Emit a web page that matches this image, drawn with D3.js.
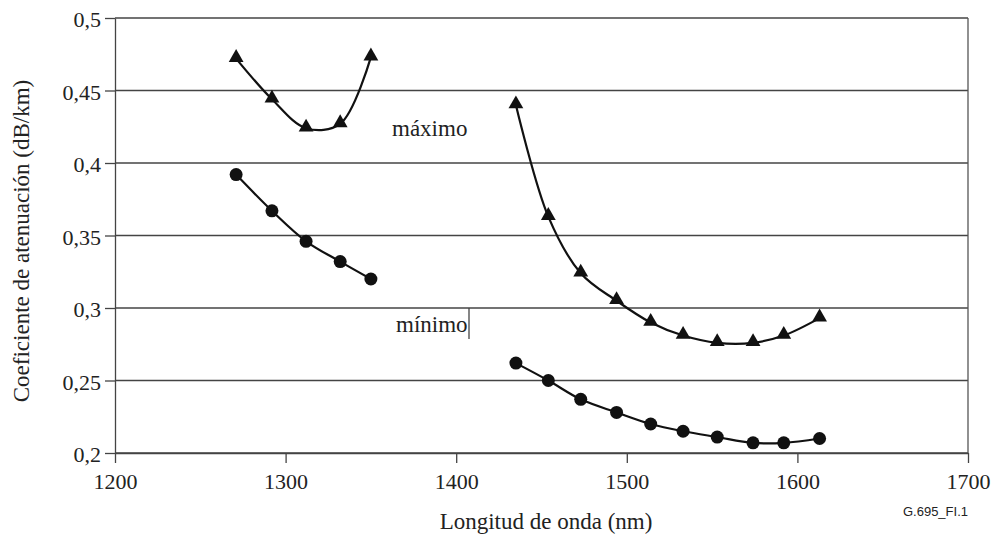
<!DOCTYPE html>
<html>
<head>
<meta charset="utf-8">
<script src="https://cdn.jsdelivr.net/npm/d3@7"></script>
<style>
  body { margin: 0; background: #fff; }
  svg text { font-family: "Liberation Serif", "DejaVu Serif", serif; fill: #222; }
</style>
</head>
<body>
<div id="chart_wrapper"></div>
<script>
// data
const xTicks = [1200, 1300, 1400, 1500, 1600, 1700];
const yTicks = [0.2, 0.25, 0.3, 0.35, 0.4, 0.45, 0.5];

const band1Wl = [1271, 1292, 1312, 1332, 1350];
const band1Max = [0.472, 0.444, 0.424, 0.427, 0.473];
const band1Min = [0.392, 0.367, 0.346, 0.332, 0.320];

const band2Wl = [1435, 1454, 1473, 1494, 1514, 1533, 1553, 1574, 1592, 1613];
const band2Max = [0.440, 0.363, 0.324, 0.305, 0.290, 0.281, 0.276, 0.276, 0.281, 0.293];
const band2Min = [0.262, 0.250, 0.237, 0.228, 0.220, 0.215, 0.211, 0.207, 0.207, 0.210];

const W = 995, H = 534;
const margin = {left: 115, right: 27, top: 18, bottom: 81};

const svg = d3.select('#chart_wrapper').append('svg')
    .attr('width', W)
    .attr('height', H);

const x = d3.scaleLinear().domain([1200, 1700]).range([margin.left, W - margin.right]);
const y = d3.scaleLinear().domain([0.2, 0.5]).range([H - margin.bottom, margin.top]);

const fmt = d => String(d).replace('.', ',');

// horizontal grid
svg.append('g')
    .selectAll('line')
    .data(yTicks)
    .join('line')
    .attr('x1', x(1200)).attr('x2', x(1700))
    .attr('y1', d => y(d)).attr('y2', d => y(d))
    .attr('stroke', '#444')
    .attr('stroke-width', 1.3);

// right border
svg.append('line')
    .attr('x1', x(1700)).attr('x2', x(1700))
    .attr('y1', y(0.5)).attr('y2', y(0.2))
    .attr('stroke', '#555').attr('stroke-width', 1.3);

const yAxis = svg.append('g')
    .attr('transform', `translate(${x(1200)},0)`)
    .call(d3.axisLeft(y).tickValues(yTicks).tickFormat(fmt).tickSize(10).tickSizeOuter(0));

const xAxis = svg.append('g')
    .attr('transform', `translate(0,${y(0.2)})`)
    .call(d3.axisBottom(x).tickValues(xTicks).tickFormat(d => d).tickSize(10).tickSizeOuter(0));

[yAxis, xAxis].forEach(a => {
    a.select('.domain').attr('stroke', '#444').attr('stroke-width', 1.3);
    a.selectAll('.tick line').attr('stroke', '#444').attr('stroke-width', 1.3);
    a.selectAll('.tick text')
        .style('font-family', '"Liberation Serif", serif')
        .style('font-size', '22px')
        .attr('fill', '#222');
});
yAxis.selectAll('.tick text').attr('x', -14).attr('dy', '0.4em');
xAxis.selectAll('.tick text').attr('y', 36).attr('dy', 0);

// curves
const line = d3.line()
    .x(d => x(d[0]))
    .y(d => y(d[1]))
    .curve(d3.curveCatmullRom.alpha(0.5));

const series = [
    {wl: band1Wl, v: band1Max, mark: 'tri'},
    {wl: band1Wl, v: band1Min, mark: 'dot'},
    {wl: band2Wl, v: band2Max, mark: 'tri'},
    {wl: band2Wl, v: band2Min, mark: 'dot'}
];

const tri = d3.symbol().type(d3.symbolTriangle).size(95);

series.forEach(s => {
    const pts = d3.zip(s.wl, s.v);
    svg.append('path')
        .datum(pts)
        .attr('d', line)
        .attr('fill', 'none')
        .attr('stroke', '#111')
        .attr('stroke-width', 2.2);

    if (s.mark === 'dot') {
        svg.append('g').selectAll('circle')
            .data(pts)
            .join('circle')
            .attr('cx', d => x(d[0]))
            .attr('cy', d => y(d[1]))
            .attr('r', 6.5)
            .attr('fill', '#111');
    } else {
        svg.append('g').selectAll('path')
            .data(pts)
            .join('path')
            .attr('d', tri)
            .attr('transform', d => `translate(${x(d[0])},${y(d[1]) - 1})`)
            .attr('fill', '#111');
    }
});

// labels
svg.append('text')
    .attr('x', 392).attr('y', 136)
    .style('font-size', '23px')
    .text('máximo');

svg.append('text')
    .attr('x', 396).attr('y', 332)
    .style('font-size', '23px')
    .text('mínimo');

svg.append('line')
    .attr('x1', 469).attr('x2', 469)
    .attr('y1', y(0.3)).attr('y2', y(0.3) + 31)
    .attr('stroke', '#444').attr('stroke-width', 1.3);

svg.append('text')
    .attr('transform', `translate(29,${241}) rotate(-90)`)
    .attr('text-anchor', 'middle')
    .style('font-size', '23px')
    .text('Coeficiente de atenuación (dB/km)');

svg.append('text')
    .attr('x', 546).attr('y', 529)
    .attr('text-anchor', 'middle')
    .style('font-size', '23px')
    .text('Longitud de onda (nm)');

svg.append('text')
    .attr('x', 968).attr('y', 516)
    .attr('text-anchor', 'end')
    .style('font-family', '"Liberation Sans", Arial, sans-serif')
    .style('font-size', '13px')
    .text('G.695_FI.1');
</script>
</body>
</html>
